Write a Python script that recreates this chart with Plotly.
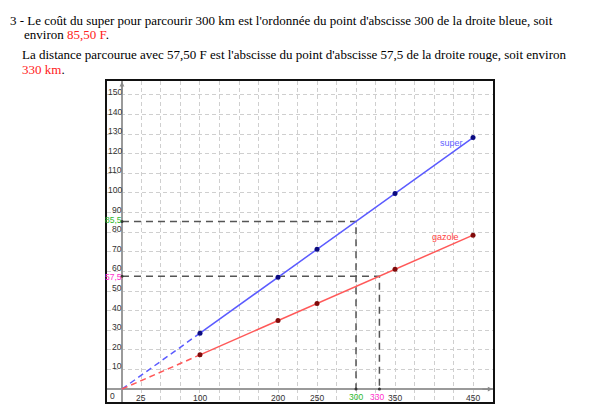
import plotly.graph_objects as go

# Distances (km) where the prices were plotted
distances = [100, 200, 250, 350, 450]
# Cost of "super" petrol (F) for each distance
super_cost = [28.5, 57.0, 71.25, 99.75, 128.25]
# Cost of "gazole" (F) for each distance
gazole_cost = [17.45, 34.9, 43.6, 61.1, 78.5]

# Readings made on the graph
super_distance, super_reading = 300, 85.5
gazole_budget, gazole_reading = 57.5, 330

# Axis tick labels
x_tick_values = [25, 100, 200, 250, 350, 450]
y_tick_values = [10, 20, 30, 40, 50, 60, 70, 80, 90, 100, 110, 120, 130, 140, 150]

W, H = 600, 408
L, R, T, B = 107, 107, 81, 6
X_RANGE = [-19.2, 475.6]
Y_RANGE = [-6.6, 157.1]

BLUE = "#5b5bff"
RED = "#ff5959"
BLUE_DOT = "#0a0a80"
RED_DOT = "#800a0a"
GUIDE = "#555555"


def px_x(p):
    return (p - L) / (W - L - R)


def px_y(p):
    return 1 - (p - T) / (H - T - B)


fig = go.Figure()

# Dashed extensions from the origin to the first plotted point
fig.add_trace(go.Scatter(x=[0, distances[0]], y=[0, super_cost[0]], mode="lines",
                         line=dict(color=BLUE, width=1.5, dash="6px,4px"), hoverinfo="skip"))
fig.add_trace(go.Scatter(x=[0, distances[0]], y=[0, gazole_cost[0]], mode="lines",
                         line=dict(color=RED, width=1.5, dash="6px,4px"), hoverinfo="skip"))

# Reading guides
fig.add_trace(go.Scatter(x=[0, super_distance, super_distance], y=[super_reading, super_reading, 0],
                         mode="lines", line=dict(color=GUIDE, width=1.5, dash="7px,5px"), hoverinfo="skip"))
fig.add_trace(go.Scatter(x=[0, gazole_reading, gazole_reading], y=[gazole_budget, gazole_budget, 0],
                         mode="lines", line=dict(color=GUIDE, width=1.5, dash="7px,5px"), hoverinfo="skip"))

# Price lines
fig.add_trace(go.Scatter(x=distances, y=super_cost, mode="lines+markers",
                         line=dict(color=BLUE, width=1.5),
                         marker=dict(color=BLUE_DOT, size=5), name="super"))
fig.add_trace(go.Scatter(x=distances, y=gazole_cost, mode="lines+markers",
                         line=dict(color=RED, width=1.5),
                         marker=dict(color=RED_DOT, size=5), name="gazole"))

# Small marks where the guides meet the axes
fig.add_trace(go.Scatter(x=[super_distance, gazole_reading, 0, 0],
                         y=[0, 0, super_reading, gazole_budget], mode="markers",
                         marker=dict(color="#333333", size=3), hoverinfo="skip"))

ann = []
tick_font = dict(family="Arial, Liberation Sans, sans-serif", size=8.5, color="#333333")
for v in y_tick_values:
    ann.append(dict(x=0, y=v, xref="x", yref="y", text=str(v), showarrow=False, borderpad=0,
                    xanchor="right", yanchor="middle", xshift=1, yshift=3, font=tick_font))
for v in x_tick_values:
    ann.append(dict(x=v, y=0, xref="x", yref="y", text=str(v), showarrow=False,
                    xanchor="center", yanchor="top", yshift=-2, font=tick_font))
ann.append(dict(x=0, y=0, xref="x", yref="y", text="0", showarrow=False,
                xanchor="right", yanchor="top", xshift=-5, yshift=0, font=tick_font))

green_font = dict(family="Arial, Liberation Sans, sans-serif", size=8.5, color="#2db82d")
pink_font = dict(family="Arial, Liberation Sans, sans-serif", size=8.5, color="#ff33cc")
ann.append(dict(x=super_distance, y=0, xref="x", yref="y", text=str(super_distance),
                showarrow=False, xanchor="center", yanchor="top", yshift=-1, font=green_font))
ann.append(dict(x=gazole_reading, y=0, xref="x", yref="y", text=str(gazole_reading),
                showarrow=False, xanchor="center", yanchor="top", yshift=-1, xshift=-2, font=pink_font))
ann.append(dict(x=0, y=super_reading, xref="x", yref="y", text="85,5", borderpad=0,
                showarrow=False, xanchor="right", yanchor="middle", xshift=1, yshift=1, font=green_font))
ann.append(dict(x=0, y=gazole_budget, xref="x", yref="y", text="57,5", borderpad=0,
                showarrow=False, xanchor="right", yanchor="middle", xshift=1, yshift=-1, font=pink_font))

# Line names
ann.append(dict(x=422, y=125.5, xref="x", yref="y", text="super", showarrow=False,
                font=dict(family="Arial, Liberation Sans, sans-serif", size=9, color="#6060ff")))
ann.append(dict(x=415, y=77.5, xref="x", yref="y", text="gazole", showarrow=False,
                font=dict(family="Arial, Liberation Sans, sans-serif", size=9, color="#ff4040")))

# Axis arrows
ann.append(dict(x=0, y=Y_RANGE[1] - 0.3, ax=0, ay=150, xref="x", yref="y", axref="x", ayref="y",
                text="", showarrow=True, arrowhead=2, arrowsize=0.8, arrowwidth=1.2, arrowcolor="#888888"))
ann.append(dict(x=X_RANGE[1] - 0.5, y=0, ax=460, ay=0, xref="x", yref="y", axref="x", ayref="y",
                text="", showarrow=True, arrowhead=2, arrowsize=0.8, arrowwidth=1.2, arrowcolor="#888888"))

# Explanatory text above the graph
serif = dict(family="Liberation Serif, Times New Roman, serif", size=13, color="#000000")
lines = [
    (8, 20, "3 - Le coût du super pour parcourir 300 km est l'ordonnée du point d'abscisse 300 de la droite bleue, soit"),
    (22, 34, "environ <span style='color:#ff2020'>85,50 F</span>."),
    (20, 54, "La distance parcourue avec 57,50 F est l'abscisse du point d'abscisse 57,5 de la droite rouge, soit environ"),
    (20, 69, "<span style='color:#ff2020'>330 km</span>."),
]
for x0, yc, txt in lines:
    ann.append(dict(x=px_x(x0), y=px_y(yc), xref="paper", yref="paper", text=txt, showarrow=False,
                    xanchor="left", yanchor="middle", font=serif))

axis_common = dict(showline=True, mirror=True, linecolor="#111111", linewidth=2,
                   showgrid=True, gridcolor="#cfcfcf", griddash="4px,3px", gridwidth=1,
                   zeroline=True, zerolinecolor="#9a9a9a", zerolinewidth=2,
                   showticklabels=False, ticks="", fixedrange=True)

fig.update_layout(
    width=W, height=H,
    margin=dict(l=L, r=R, t=T, b=B),
    paper_bgcolor="white", plot_bgcolor="white",
    showlegend=False,
    xaxis=dict(range=X_RANGE, dtick=25, tick0=0, **axis_common),
    yaxis=dict(range=Y_RANGE, dtick=10, tick0=0, **axis_common),
    annotations=ann,
)

fig.write_html("out.html", config={"displayModeBar": False})
